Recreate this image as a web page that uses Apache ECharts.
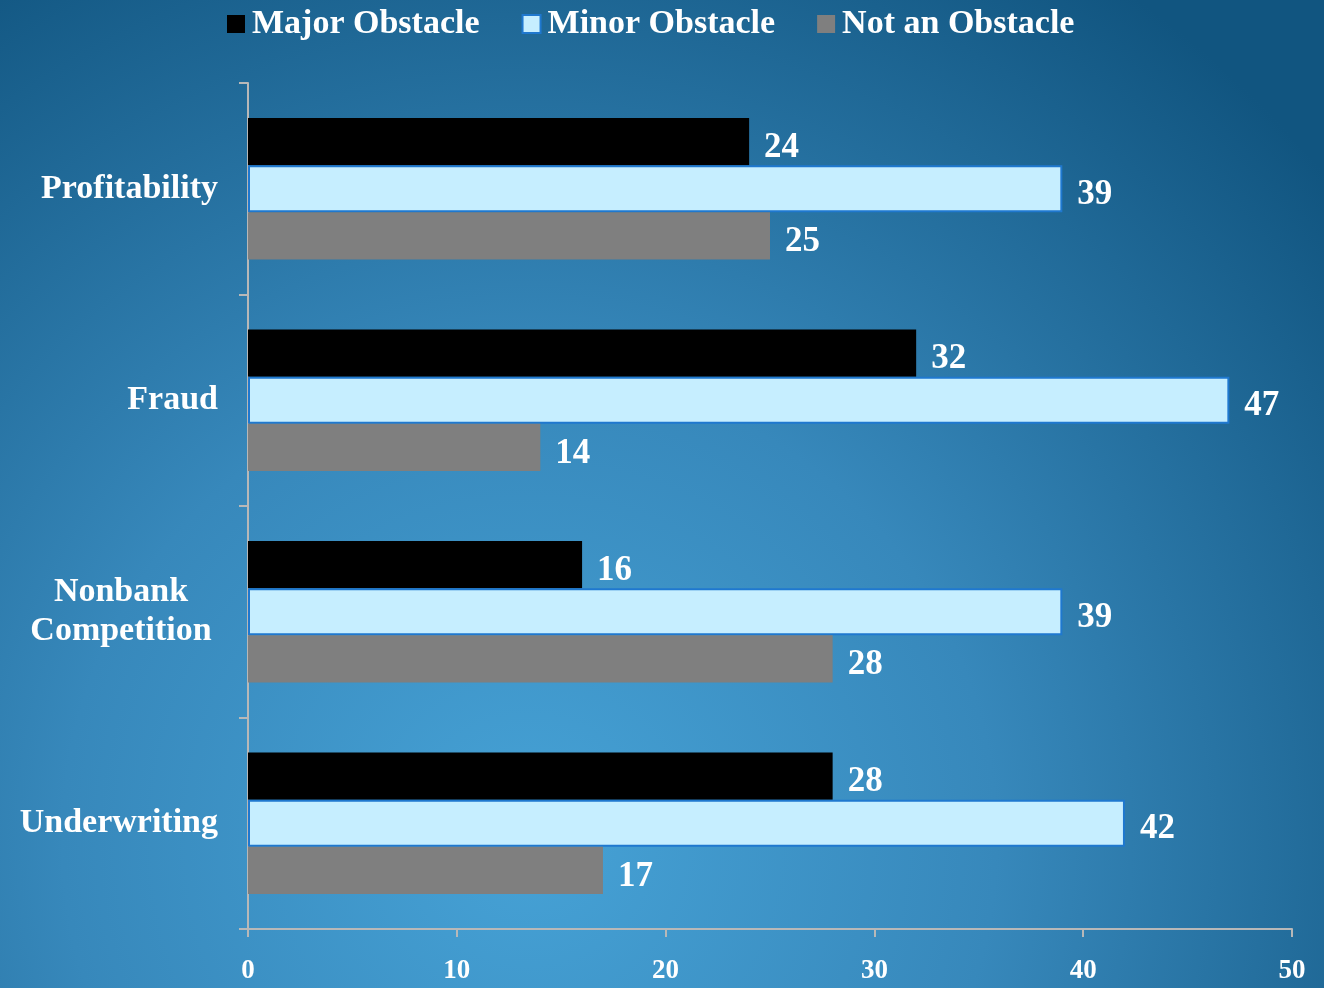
<!DOCTYPE html>
<html>
<head>
<meta charset="utf-8">
<script src="https://cdn.jsdelivr.net/npm/echarts@6/dist/echarts.min.js"></script>
<style>
  html, body { margin: 0; padding: 0; }
  #chart { width: 1324px; height: 988px; }
</style>
</head>
<body>
<div id="chart"></div>
<script>
// categories top to bottom
const categories = ['Profitability', 'Fraud', 'Nonbank\nCompetition', 'Underwriting']
const majorObstacle = [24, 32, 16, 28]
const minorObstacle = [39, 47, 39, 42]
const notAnObstacle = [25, 14, 28, 17]
const xTicks = [0, 10, 20, 30, 40, 50]

const serif = '"Liberation Serif", "DejaVu Serif", serif'

const chart = echarts.init(document.getElementById('chart'))

const labelStyle = {
  show: true,
  position: 'right',
  distance: 15,
  offset: [0, 6],
  color: '#fff',
  fontFamily: serif,
  fontWeight: 'bold',
  fontSize: 35
}

const option = {
  backgroundColor: {
    type: 'radial',
    x: 0.4,
    y: 0.85,
    r: 1.05,
    colorStops: [
      { offset: 0, color: '#46a2d6' },
      { offset: 0.45, color: '#3788bb' },
      { offset: 1, color: '#115580' }
    ]
  },
  animation: false,
  legend: {
    top: 2,
    left: 222,
    icon: 'rect',
    itemWidth: 18,
    itemHeight: 18,
    itemGap: 42,
    textStyle: {
      color: '#fff',
      fontFamily: serif,
      fontWeight: 'bold',
      fontSize: 34,
      padding: [0, 0, 0, 2]
    },
    data: ['Major Obstacle', 'Minor Obstacle', 'Not an Obstacle']
  },
  grid: {
    left: 248,
    right: 32,
    top: 83,
    bottom: 59
  },
  xAxis: {
    type: 'value',
    min: 0,
    max: 50,
    interval: 10,
    splitLine: { show: false },
    axisLine: { show: true, lineStyle: { color: '#b8b8b8', width: 2 } },
    axisTick: { show: true, length: 8, lineStyle: { color: '#b8b8b8', width: 2 } },
    axisLabel: {
      color: '#fff',
      fontFamily: serif,
      fontWeight: 'bold',
      fontSize: 27,
      margin: 29,
      formatter: v => xTicks.includes(v) ? String(v) : ''
    }
  },
  yAxis: {
    type: 'category',
    inverse: true,
    data: categories,
    axisLine: { show: true, lineStyle: { color: '#b8b8b8', width: 2 } },
    axisTick: { show: true, length: 9, lineStyle: { color: '#b8b8b8', width: 2 } },
    axisLabel: {
      color: '#fff',
      fontFamily: serif,
      fontWeight: 'bold',
      fontSize: 34,
      margin: 30,
      align: 'right',
      formatter: v => v.includes('\n')
        ? v.split('\n').map(s => '{c|' + s + '}').join('\n')
        : v,
      rich: {
        c: {
          color: '#fff',
          fontFamily: serif,
          fontWeight: 'bold',
          fontSize: 34,
          width: 194,
          align: 'center',
          lineHeight: 39
        }
      }
    }
  },
  series: [
    {
      name: 'Major Obstacle',
      type: 'bar',
      data: majorObstacle,
      barCategoryGap: '33%',
      barGap: 0,
      itemStyle: { color: '#000' },
      label: labelStyle
    },
    {
      name: 'Minor Obstacle',
      type: 'bar',
      data: minorObstacle,
      barCategoryGap: '33%',
      barGap: 0,
      itemStyle: { color: '#c6eeff', borderColor: '#1f78cf', borderWidth: 2 },
      label: labelStyle
    },
    {
      name: 'Not an Obstacle',
      type: 'bar',
      data: notAnObstacle,
      barCategoryGap: '33%',
      barGap: 0,
      itemStyle: { color: '#7f7f7f' },
      label: labelStyle
    }
  ]
}

chart.setOption(option)
</script>
</body>
</html>
